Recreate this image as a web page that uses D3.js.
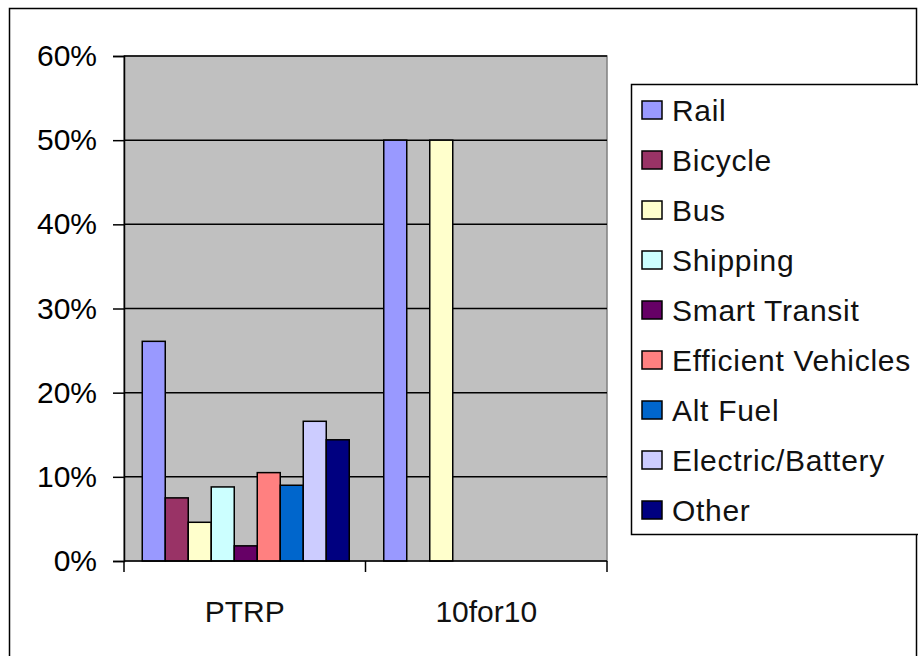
<!DOCTYPE html>
<html>
<head>
<meta charset="utf-8">
<script src="https://cdn.jsdelivr.net/npm/d3@7"></script>
<style>
  body { margin: 0; background: #fff; }
  svg text { font-family: "Liberation Sans", Arial, sans-serif; fill: #000; }
</style>
</head>
<body>
<div id="chart"></div>
<script>
// chart data
var categories = ["PTRP", "10for10"];
var series = ["Rail", "Bicycle", "Bus", "Shipping", "Smart Transit",
              "Efficient Vehicles", "Alt Fuel", "Electric/Battery", "Other"];
var ptrpValues = [0.261, 0.075, 0.046, 0.088, 0.018, 0.105, 0.090, 0.166, 0.144];
var tenForTenValues = [0.50, 0, 0.50, 0, 0, 0, 0, 0, 0];
var seriesColors = ["#9999ff", "#993366", "#ffffcc", "#ccffff", "#660066",
                    "#ff8080", "#0066cc", "#ccccff", "#000080"];
var yTicks = [0, 0.1, 0.2, 0.3, 0.4, 0.5, 0.6];

var width = 918, height = 656;
var plot = {left: 124, top: 56, right: 607, bottom: 561};

var svg = d3.select("#chart").append("svg")
    .attr("width", width).attr("height", height);

// outer chart border
svg.append("rect")
    .attr("x", 9.5).attr("y", 8.5)
    .attr("width", 907).attr("height", 700)
    .attr("fill", "#fff").attr("stroke", "#000").attr("stroke-width", 1.5);

var y = d3.scaleLinear().domain([0, 0.6]).range([plot.bottom, plot.top]);
var x0 = d3.scaleBand().domain(categories).range([plot.left, plot.right]);
var bw = x0.bandwidth();
var barW = bw / (series.length + 1.5);   // excel gap width 150%
var x1 = d3.scaleBand().domain(series)
    .range([(bw - barW * series.length) / 2 + 1, (bw + barW * series.length) / 2 + 1]);
var color = d3.scaleOrdinal().domain(series).range(seriesColors);

// plot area
svg.append("rect")
    .attr("x", plot.left).attr("y", plot.top)
    .attr("width", plot.right - plot.left).attr("height", plot.bottom - plot.top)
    .attr("fill", "#c0c0c0").attr("stroke", "#808080").attr("stroke-width", 1.5);

// gridlines
svg.append("g").selectAll("line").data(yTicks.slice(1)).join("line")
    .attr("x1", plot.left).attr("x2", plot.right)
    .attr("y1", function(d){ return y(d); }).attr("y2", function(d){ return y(d); })
    .attr("stroke", "#000").attr("stroke-width", 1.5);

// bars
var table = categories.map(function(c, i){
    var vals = i == 0 ? ptrpValues : tenForTenValues;
    return {cat: c, vals: series.map(function(s, k){ return {name: s, v: vals[k]}; })};
});
var groups = svg.append("g").selectAll("g").data(table).join("g")
    .attr("transform", function(d){ return "translate(" + x0(d.cat) + ",0)"; });
groups.selectAll("rect").data(function(d){ return d.vals.filter(function(e){ return e.v > 0; }); })
    .join("rect")
    .attr("x", function(d){ return x1(d.name); })
    .attr("width", x1.bandwidth())
    .attr("y", function(d){ return y(d.v); })
    .attr("height", function(d){ return y(0) - y(d.v); })
    .attr("fill", function(d){ return color(d.name); })
    .attr("stroke", "#000").attr("stroke-width", 1.5);

// y axis
var yAxis = svg.append("g")
    .attr("transform", "translate(" + plot.left + ",0)")
    .call(d3.axisLeft(y).tickValues(yTicks).tickFormat(d3.format(".0%"))
        .tickSize(11).tickPadding(16));
yAxis.select(".domain").attr("stroke", "#000").attr("stroke-width", 1.5);
yAxis.selectAll(".tick line").attr("stroke", "#000").attr("stroke-width", 1.5);
yAxis.selectAll("text").style("font-size", "30px").attr("fill", "#111");

// x axis
var xAxis = svg.append("g")
    .attr("transform", "translate(0," + plot.bottom + ")");
xAxis.append("line")
    .attr("x1", plot.left).attr("x2", plot.right)
    .attr("stroke", "#000").attr("stroke-width", 1.5);
xAxis.selectAll(".xtick").data([plot.left, plot.left + bw, plot.right]).join("line")
    .attr("class", "xtick")
    .attr("x1", function(d){ return d; }).attr("x2", function(d){ return d; })
    .attr("y1", 0).attr("y2", 11)
    .attr("stroke", "#000").attr("stroke-width", 1.5);
xAxis.selectAll("text").data(categories).join("text")
    .attr("x", function(d){ return x0(d) + bw / 2; })
    .attr("y", 61)
    .attr("text-anchor", "middle")
    .style("font-size", "30px")
    .style("fill", "#111")
    .text(function(d){ return d; });

// legend
var legend = svg.append("g");
legend.append("rect")
    .attr("x", 631.5).attr("y", 84.5)
    .attr("width", 300).attr("height", 450)
    .attr("fill", "#fff").attr("stroke", "#000").attr("stroke-width", 1.5);
var rows = legend.selectAll("g.row").data(series).join("g")
    .attr("class", "row")
    .attr("transform", function(d, i){ return "translate(0," + (110 + i * 50) + ")"; });
rows.append("rect")
    .attr("x", 642).attr("y", -9)
    .attr("width", 20).attr("height", 18)
    .attr("fill", function(d){ return color(d); })
    .attr("stroke", "#000").attr("stroke-width", 1.5);
rows.append("text")
    .attr("x", 672).attr("y", 11)
    .style("font-size", "30px")
    .style("letter-spacing", "0.7px")
    .style("fill", "#111")
    .text(function(d){ return d; });
</script>
</body>
</html>
